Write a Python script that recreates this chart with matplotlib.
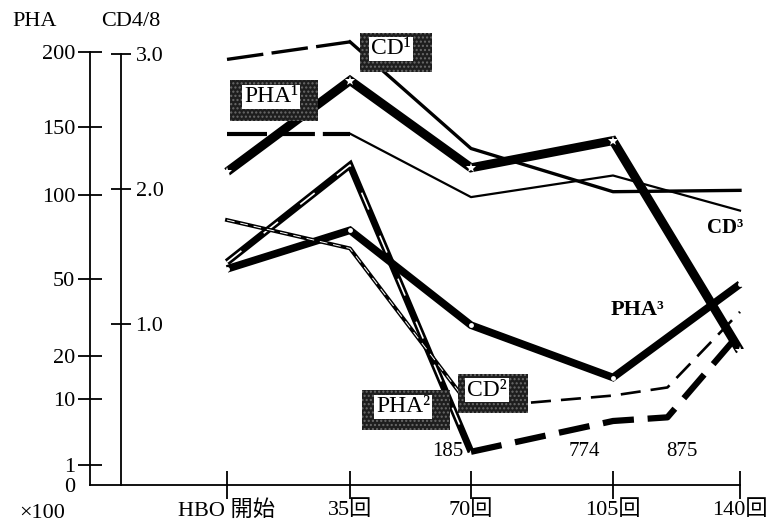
import numpy as np
import matplotlib
matplotlib.use("Agg")
import matplotlib.pyplot as plt
from matplotlib.patches import Rectangle

plt.rcParams['font.family'] = ['Liberation Serif', 'Noto Sans CJK JP']

# sessions (回) on the x axis
sessions = [0, 35, 70, 105, 140]
sessions_late = [70, 105, 120, 140]
x_labels = ['HBO 開始', '35回', '70回', '105回', '140回']

# PHA values (x100)
pha1 = [117, 181, 120, 140, 22]
pha2 = [60, 122, 2.8]
pha2_late = [2.8, 7.0, 7.5, 29]
pha3 = [56, 79, 32, 15, 48]

# CD4/8 ratio
cd1 = [2.96, 3.09, 2.30, 1.98, 1.99]
cd2 = [1.77, 1.56, 0.38]
cd2_late = [0.38, 0.47, 0.53, 1.09]
cd3 = [2.41, 2.41, 1.94, 2.10, 1.84]

pha_ticks = [0, 1, 10, 20, 50, 100, 150, 200]
cd_ticks = [1.0, 2.0, 3.0]
late_values = ['185', '774', '875']

# the original axes are hand spaced, rebuild them as piecewise scales
x_sess = [-60, 0, 35, 70, 105, 140, 170]
x_pos = [16.1, 227, 350, 471, 613, 740, 848.9]
pha_vals = [-10, 0, 1, 10, 20, 50, 100, 150, 200, 300]
pha_pos = [-200, 0, 20, 86, 129, 206, 290, 358, 433, 583]


def x_fwd(v):
    return np.interp(v, x_sess, x_pos)


def x_inv(p):
    return np.interp(p, x_pos, x_sess)


def y_fwd(v):
    return np.interp(v, pha_vals, pha_pos)


def y_inv(p):
    return np.interp(p, pha_pos, pha_vals)


W, H = 777, 527
fig = plt.figure(figsize=(W / 100, H / 100), dpi=100)


def px(x, y):
    return x / W, 1 - y / H


ax = fig.add_axes([90 / W, 42 / H, 660 / W, 455 / H])
ax.set_xscale('function', functions=(x_fwd, x_inv))
ax.set_yscale('function', functions=(y_fwd, y_inv))
x0 = x_inv(90)
ax.set_xlim(x0, x_inv(750))
ax.set_ylim(0, y_inv(455))

ax2 = ax.twinx()
ax2.set_ylim(-26 / 135, 429 / 135)

for s in ['top', 'right']:
    ax.spines[s].set_visible(False)
for s in ['top', 'left', 'bottom']:
    ax2.spines[s].set_visible(False)
ax.spines['left'].set_bounds(0, 200)
ax.spines['bottom'].set_bounds(x0, 140)
ax2.spines['right'].set_position(('axes', 31 / 660))
ax2.spines['right'].set_bounds(-26 / 135, 3.0)
for sp in [ax.spines['left'], ax.spines['bottom'], ax2.spines['right']]:
    sp.set_linewidth(1.3)

ax.set_xticks(sessions)
ax.set_xticklabels(x_labels)
ax.set_yticks(pha_ticks)
ax.set_yticklabels([str(t) for t in pha_ticks])
ax.minorticks_off()
ax.tick_params(axis='x', direction='inout', length=20, width=1.3, pad=1, labelsize=16)
ax.tick_params(axis='y', direction='inout', length=17, width=1.3, pad=2, labelsize=16)
ax.yaxis.get_major_ticks()[0].tick1line.set_visible(False)

ax2.set_yticks(cd_ticks)
ax2.set_yticklabels(['%.1f' % t for t in cd_ticks])
ax2.tick_params(axis='y', direction='inout', length=15, width=1.3, pad=3, labelsize=16)

# PHA1 - thick with white stars
ax.plot(sessions, pha1, color='k', lw=6.5, solid_joinstyle='miter', solid_capstyle='butt')
ax.plot(sessions, pha1, ls='none', marker='*', color='white', ms=7, mew=0, markevery=0.07)

# PHA2 - thick with white inner stripes, dashed when off scale
ax.plot(sessions[:3], pha2, color='k', lw=5, solid_joinstyle='miter', solid_capstyle='butt')
ax.plot(sessions[:3], pha2, color='white', lw=1.2, dashes=(11, 17))
ax.plot(sessions_late, pha2_late, color='k', lw=4.5, dashes=(5, 2.2), dash_capstyle='butt')

# PHA3 - thick with white dots
ax.plot(sessions, pha3, color='k', lw=5.5, solid_joinstyle='miter', solid_capstyle='butt')
ax.plot(sessions, pha3, ls='none', marker='o', color='white', ms=3.5, mew=0, markevery=0.1)

# CD lines
ax2.plot(sessions[:2], cd1[:2], color='k', lw=2.4, dashes=(11, 2.5))
ax2.plot(sessions[1:], cd1[1:], color='k', lw=2.4)

ax2.plot(sessions[:2], cd3[:2], color='k', lw=3, dashes=(9.6, 1.9))
ax2.plot(sessions[1:], cd3[1:], color='k', lw=1.6)

ax2.plot(sessions[:3], cd2, color='k', lw=2.8)
ax2.plot(sessions[:3], cd2, color='white', lw=0.7, dashes=(8, 6))
ax2.plot(sessions_late, cd2_late, color='k', lw=1.9, dashes=(7.6, 3.8), dash_capstyle='butt')

# axis titles
fig.text(*px(35, 22), 'PHA', fontsize=16, ha='center', va='center')
fig.text(*px(131, 22), 'CD4/8', fontsize=16, ha='center', va='center')
fig.text(*px(42, 513), '×100', fontsize=16, ha='center', va='center')


def boxed(frame, center, s):
    # dark speckled frame behind a white label
    x1, y1, x2, y2 = frame
    fig.add_artist(Rectangle(px(x1, y2), (x2 - x1) / W, (y2 - y1) / H,
                             transform=fig.transFigure, fc='#1e1e1e', ec='#6a6a6a',
                             hatch='....', lw=0, zorder=5))
    fig.text(*px(*center), s, fontsize=17, ha='center', va='center', zorder=6,
             bbox=dict(boxstyle='square,pad=0.08', fc='white', ec='none'))


boxed((360, 33, 432, 72), (391, 49), 'CD¹')
boxed((230, 80, 318, 121), (271, 97), 'PHA¹')
boxed((362, 390, 450, 430), (403, 407), 'PHA²')
boxed((458, 374, 528, 413), (487, 390), 'CD²')

fig.text(*px(637, 310), 'PHA³', fontsize=16, fontweight='bold', ha='center', va='center')
fig.text(*px(725, 228), 'CD³', fontsize=15, fontweight='bold', ha='center', va='center')

for (x, y), s in zip([(448, 452), (584, 452), (682, 452)], late_values):
    fig.text(*px(x, y), s, fontsize=15, ha='center', va='center')

fig.savefig('out.png', dpi=100)
